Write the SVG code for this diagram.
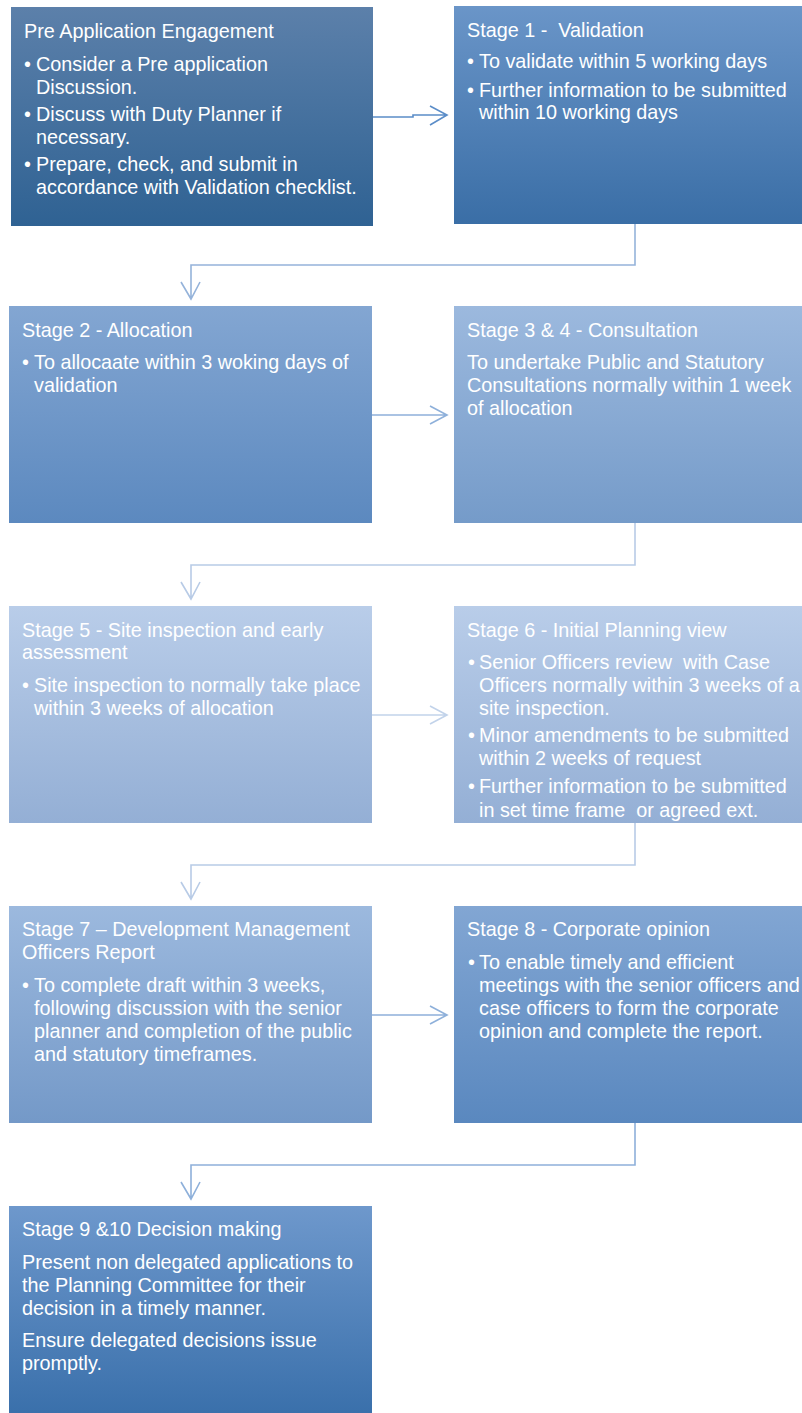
<svg xmlns="http://www.w3.org/2000/svg" width="802" height="1413" viewBox="0 0 802 1413">
<defs>
<linearGradient id="g0" x1="0" y1="0" x2="0" y2="1"><stop offset="0" stop-color="#5c80aa"/><stop offset="1" stop-color="#2f6293"/></linearGradient>
<linearGradient id="g1" x1="0" y1="0" x2="0" y2="1"><stop offset="0" stop-color="#6a95c8"/><stop offset="1" stop-color="#3a6ea6"/></linearGradient>
<linearGradient id="g2" x1="0" y1="0" x2="0" y2="1"><stop offset="0" stop-color="#83a6d2"/><stop offset="1" stop-color="#5c89bf"/></linearGradient>
<linearGradient id="g3" x1="0" y1="0" x2="0" y2="1"><stop offset="0" stop-color="#9cb9de"/><stop offset="1" stop-color="#759bc9"/></linearGradient>
<linearGradient id="g5" x1="0" y1="0" x2="0" y2="1"><stop offset="0" stop-color="#b9cde9"/><stop offset="1" stop-color="#94afd5"/></linearGradient>
<linearGradient id="g7" x1="0" y1="0" x2="0" y2="1"><stop offset="0" stop-color="#9cb9de"/><stop offset="1" stop-color="#7499c8"/></linearGradient>
<linearGradient id="g8" x1="0" y1="0" x2="0" y2="1"><stop offset="0" stop-color="#82a6d3"/><stop offset="1" stop-color="#5a88bf"/></linearGradient>
<linearGradient id="g9" x1="0" y1="0" x2="0" y2="1"><stop offset="0" stop-color="#6e98cc"/><stop offset="1" stop-color="#3a70ab"/></linearGradient>
</defs>
<style>
text{font-family:"Liberation Sans",Arial,sans-serif;font-size:19.8px;fill:#ffffff;white-space:pre}
.c{fill:none;stroke-width:1.6}
</style>
<g id="connectors">
<path class="c" stroke="#5b8dc8" d="M373 117 H413 V115 H446 M430 106 L447 115 L430 125"/>
<path class="c" stroke="#95b3da" d="M635 224 V265 H191 V298 M181 282 L191 299 L200 282"/>
<path class="c" stroke="#8eb0da" d="M372 415 H446 M430 406 L447 415 L430 424"/>
<path class="c" stroke="#b8cbe6" d="M635 523 V565 H191 V598 M181 582 L191 599 L200 582"/>
<path class="c" stroke="#c2d3ea" d="M372 715 H446 M430 706 L447 715 L430 724"/>
<path class="c" stroke="#b8cbe6" d="M635 823 V865 H191 V898 M181 882 L191 899 L200 882"/>
<path class="c" stroke="#8eb0da" d="M372 1015 H446 M430 1006 L447 1015 L430 1024"/>
<path class="c" stroke="#8eb0da" d="M635 1123 V1165 H191 V1198 M181 1182 L191 1199 L200 1182"/>
</g>
<g id="pre">
<rect x="11" y="7" width="362" height="219" fill="url(#g0)"/>
<text x="24" y="38">Pre Application Engagement</text>
<text x="24" y="71">•</text><text x="36" y="71">Consider a Pre application</text>
<text x="36" y="94">Discussion.</text>
<text x="24" y="121">•</text><text x="36" y="121">Discuss with Duty Planner if</text>
<text x="36" y="144">necessary.</text>
<text x="24" y="171">•</text><text x="36" y="171">Prepare, check, and submit in</text>
<text x="36" y="194">accordance with Validation checklist.</text>
</g>
<g id="stage1">
<rect x="454" y="6" width="348" height="218" fill="url(#g1)"/>
<text x="467" y="37">Stage 1 -  Validation</text>
<text x="467" y="68">•</text><text x="479" y="68">To validate within 5 working days</text>
<text x="467" y="97">•</text><text x="479" y="97">Further information to be submitted</text>
<text x="479" y="119">within 10 working days</text>
</g>
<g id="stage2">
<rect x="9" y="306" width="363" height="217" fill="url(#g2)"/>
<text x="22" y="337">Stage 2 - Allocation</text>
<text x="22" y="369">•</text><text x="34" y="369">To allocaate within 3 woking days of</text>
<text x="34" y="392">validation</text>
</g>
<g id="stage3">
<rect x="454" y="306" width="348" height="217" fill="url(#g3)"/>
<text x="467" y="337">Stage 3 &amp; 4 - Consultation</text>
<text x="467" y="369">To undertake Public and Statutory</text>
<text x="467" y="392">Consultations normally within 1 week</text>
<text x="467" y="415">of allocation</text>
</g>
<g id="stage5">
<rect x="9" y="606" width="363" height="217" fill="url(#g5)"/>
<text x="22" y="637">Stage 5 - Site inspection and early</text>
<text x="22" y="659">assessment</text>
<text x="22" y="692">•</text><text x="34" y="692">Site inspection to normally take place</text>
<text x="34" y="715">within 3 weeks of allocation</text>
</g>
<g id="stage6">
<rect x="454" y="606" width="348" height="217" fill="url(#g5)"/>
<text x="467" y="637">Stage 6 - Initial Planning view</text>
<text x="468" y="669">•</text><text x="479" y="669">Senior Officers review  with Case</text>
<text x="479" y="692">Officers normally within 3 weeks of a</text>
<text x="479" y="715">site inspection.</text>
<text x="468" y="742">•</text><text x="479" y="742">Minor amendments to be submitted</text>
<text x="479" y="765">within 2 weeks of request</text>
<text x="468" y="793">•</text><text x="479" y="793">Further information to be submitted</text>
<text x="479" y="817">in set time frame  or agreed ext.</text>
</g>
<g id="stage7">
<rect x="9" y="906" width="363" height="217" fill="url(#g7)"/>
<text x="22" y="936">Stage 7 – Development Management</text>
<text x="22" y="959">Officers Report</text>
<text x="22" y="992">•</text><text x="34" y="992">To complete draft within 3 weeks,</text>
<text x="34" y="1015">following discussion with the senior</text>
<text x="34" y="1038">planner and completion of the public</text>
<text x="34" y="1061">and statutory timeframes.</text>
</g>
<g id="stage8">
<rect x="454" y="906" width="348" height="217" fill="url(#g8)"/>
<text x="467" y="936">Stage 8 - Corporate opinion</text>
<text x="468" y="969">•</text><text x="479" y="969">To enable timely and efficient</text>
<text x="479" y="992">meetings with the senior officers and</text>
<text x="479" y="1015">case officers to form the corporate</text>
<text x="479" y="1038">opinion and complete the report.</text>
</g>
<g id="stage9">
<rect x="9" y="1206" width="363" height="207" fill="url(#g9)"/>
<text x="22" y="1236">Stage 9 &amp;10 Decision making</text>
<text x="22" y="1269">Present non delegated applications to</text>
<text x="22" y="1292">the Planning Committee for their</text>
<text x="22" y="1315">decision in a timely manner.</text>
<text x="22" y="1347">Ensure delegated decisions issue</text>
<text x="22" y="1370">promptly.</text>
</g>
</svg>
